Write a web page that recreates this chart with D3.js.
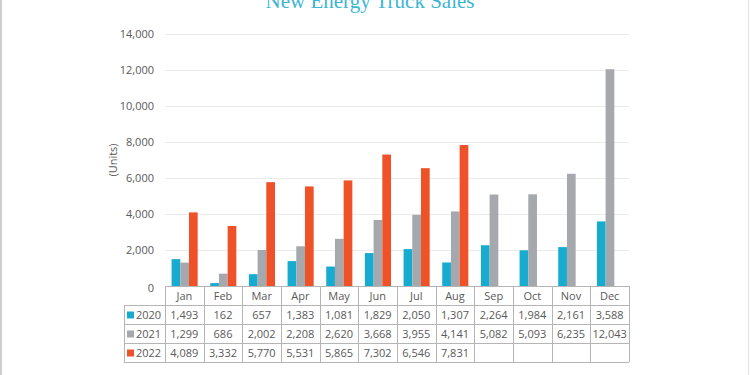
<!DOCTYPE html>
<html>
<head>
<meta charset="utf-8">
<script src="https://cdn.jsdelivr.net/npm/d3@7"></script>
<style>
  body { margin: 0; background: #fff; }
  svg text { font-family: "Open Sans", "Noto Sans", sans-serif; }
</style>
</head>
<body>
<div id="chart"></div>
<script>
const months = ["Jan", "Feb", "Mar", "Apr", "May", "Jun", "Jul", "Aug", "Sep", "Oct", "Nov", "Dec"];
const years = ["2020", "2021", "2022"];
const sales2020 = [1493, 162, 657, 1383, 1081, 1829, 2050, 1307, 2264, 1984, 2161, 3588];
const sales2021 = [1299, 686, 2002, 2208, 2620, 3668, 3955, 4141, 5082, 5093, 6235, 12043];
const sales2022 = [4089, 3332, 5770, 5531, 5865, 7302, 6546, 7831, null, null, null, null];
const yTicks = [0, 2000, 4000, 6000, 8000, 10000, 12000, 14000];
const colors = ["#17abd0", "#a5a8ad", "#ef5128"];

const series = [sales2020, sales2021, sales2022];

const width = 750;
const height = 375;
const margin = { top: 34, right: 121, bottom: 89, left: 165 };
const rowH = 19;
const legendLeft = 124;

const svg = d3.select("#chart")
  .append("svg")
  .attr("width", width)
  .attr("height", height);

// outer frame
svg.append("line").attr("x1", 1).attr("x2", 1).attr("y1", 0).attr("y2", height)
  .attr("stroke", "#cfcfcf").attr("stroke-width", 2);
svg.append("line").attr("x1", 748.5).attr("x2", 748.5).attr("y1", 0).attr("y2", height)
  .attr("stroke", "#e2e2e2").attr("stroke-width", 1);

// title (partially clipped at the top like the reference)
svg.append("text")
  .attr("x", 370)
  .attr("y", 8)
  .attr("text-anchor", "middle")
  .style("font-family", "'Liberation Serif', 'DejaVu Serif', serif")
  .style("font-size", "21px")
  .attr("fill", "#3cb6d2")
  .text("New Energy Truck Sales");

const x = d3.scaleBand()
  .domain(months)
  .range([margin.left, width - margin.right])
  .padding(0);

const x1 = d3.scaleBand()
  .domain(years)
  .range([x.bandwidth() * 0.17, x.bandwidth() * 0.845])
  .padding(0);

const y = d3.scaleLinear()
  .domain([0, 14000])
  .range([height - margin.bottom, margin.top]);

// gridlines
svg.append("g")
  .selectAll("line")
  .data(yTicks.slice(1))
  .join("line")
  .attr("x1", margin.left)
  .attr("x2", width - margin.right)
  .attr("y1", d => Math.round(y(d)) + 0.5)
  .attr("y2", d => Math.round(y(d)) + 0.5)
  .attr("stroke", "#ececec");

// y axis labels
svg.append("g")
  .selectAll("text")
  .data(yTicks)
  .join("text")
  .attr("x", 154)
  .attr("y", d => y(d) + (d === 0 ? 2 : 0))
  .attr("dy", "0.35em")
  .attr("text-anchor", "end")
  .style("font-size", "11px")
  .attr("fill", "#595959")
  .text(d => d3.format(",")(d));

svg.append("text")
  .attr("transform", `translate(117, 160) rotate(-90)`)
  .attr("text-anchor", "middle")
  .style("font-size", "11px")
  .attr("fill", "#595959")
  .text("(Units)");

// bars
const groups = svg.append("g")
  .selectAll("g")
  .data(months)
  .join("g")
  .attr("transform", d => `translate(${x(d)},0)`);

groups.selectAll("rect")
  .data((m, i) => years.map((yr, j) => ({ year: yr, value: series[j][i], color: colors[j] })))
  .join("rect")
  .filter(d => d.value != null)
  .attr("x", d => x1(d.year))
  .attr("y", d => y(d.value))
  .attr("width", x1.bandwidth())
  .attr("height", d => y(0) - y(d.value))
  .attr("fill", d => d.color);

// data table
const tableTop = y(0);
const tableBottom = tableTop + rowH * 4;
const lineColor = "#b5b5b5";
const table = svg.append("g");

// horizontal lines
table.append("line")
  .attr("x1", margin.left).attr("x2", width - margin.right)
  .attr("y1", tableTop + 0.5).attr("y2", tableTop + 0.5)
  .attr("stroke", lineColor);
[1, 2, 3, 4].forEach(r => {
  table.append("line")
    .attr("x1", legendLeft).attr("x2", width - margin.right)
    .attr("y1", Math.round(tableTop + r * rowH) + 0.5)
    .attr("y2", Math.round(tableTop + r * rowH) + 0.5)
    .attr("stroke", lineColor);
});

// vertical lines
table.selectAll("line.v")
  .data(months.concat(["end"]))
  .join("line")
  .attr("class", "v")
  .attr("x1", d => Math.round(d === "end" ? x.range()[1] : x(d)) + 0.5)
  .attr("x2", d => Math.round(d === "end" ? x.range()[1] : x(d)) + 0.5)
  .attr("y1", tableTop)
  .attr("y2", tableBottom)
  .attr("stroke", lineColor);
table.append("line")
  .attr("x1", legendLeft + 0.5).attr("x2", legendLeft + 0.5)
  .attr("y1", tableTop + rowH).attr("y2", tableBottom)
  .attr("stroke", lineColor);

// month header
table.selectAll("text.m")
  .data(months)
  .join("text")
  .attr("class", "m")
  .attr("x", d => x(d) + x.bandwidth() / 2)
  .attr("y", tableTop + rowH / 2 + 1)
  .attr("dy", "0.35em")
  .attr("text-anchor", "middle")
  .style("font-size", "11px")
  .attr("fill", "#595959")
  .text(d => d);

// rows
years.forEach((yr, j) => {
  const rowY = tableTop + rowH * (j + 1) + rowH / 2 + 1;
  table.append("rect")
    .attr("x", legendLeft + 3)
    .attr("y", rowY - 4)
    .attr("width", 7)
    .attr("height", 7)
    .attr("fill", colors[j]);
  table.append("text")
    .attr("x", legendLeft + 12)
    .attr("y", rowY)
    .attr("dy", "0.35em")
    .style("font-size", "11px")
    .attr("fill", "#595959")
    .text(yr);
  table.selectAll(null)
    .data(months.map((m, i) => ({ m, v: series[j][i] })).filter(d => d.v != null))
    .join("text")
    .attr("x", d => x(d.m) + x.bandwidth() / 2)
    .attr("y", rowY)
    .attr("dy", "0.35em")
    .attr("text-anchor", "middle")
    .style("font-size", "11px")
    .attr("fill", "#595959")
    .text(d => d3.format(",")(d.v));
});
</script>
</body>
</html>
